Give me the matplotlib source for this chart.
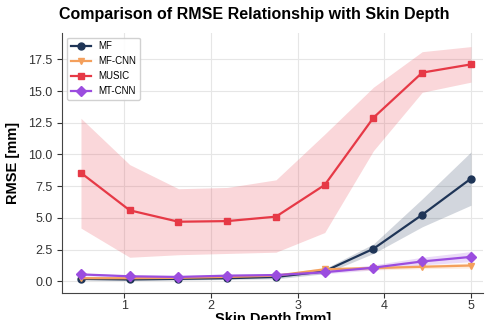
import numpy as np
import matplotlib.pyplot as plt

plt.rcParams['font.family'] = ['Liberation Sans', 'DejaVu Sans']

# =========================
# DATA
# =========================
depth = [0.5, 1.0625, 1.625, 2.1875, 2.75, 3.3125, 3.875, 4.4375, 5.0]

mf = [0.2, 0.15, 0.2, 0.25, 0.35, 0.8, 2.57, 5.25, 8.1]
mf_lo = [0.1, 0.08, 0.1, 0.15, 0.2, 0.6, 2.2, 4.3, 6.0]
mf_hi = [0.3, 0.25, 0.3, 0.35, 0.5, 1.0, 2.95, 6.5, 10.2]

mfcnn = [0.25, 0.25, 0.28, 0.35, 0.45, 0.95, 1.05, 1.15, 1.25]
mfcnn_lo = [0.18, 0.18, 0.2, 0.25, 0.35, 0.8, 0.9, 1.0, 1.05]
mfcnn_hi = [0.32, 0.32, 0.36, 0.45, 0.55, 1.1, 1.2, 1.3, 1.45]

music = [8.55, 5.6, 4.7, 4.75, 5.1, 7.6, 12.9, 16.45, 17.1]
music_lo = [4.2, 1.9, 2.1, 2.2, 2.3, 3.85, 10.3, 14.9, 15.7]
music_hi = [12.85, 9.2, 7.3, 7.4, 8.0, 11.6, 15.3, 18.1, 18.5]

mtcnn = [0.55, 0.4, 0.35, 0.45, 0.5, 0.72, 1.08, 1.57, 1.93]
mtcnn_lo = [0.45, 0.3, 0.25, 0.35, 0.4, 0.6, 0.9, 1.3, 1.55]
mtcnn_hi = [0.65, 0.5, 0.45, 0.55, 0.6, 0.85, 1.3, 1.9, 2.35]

series = [
    ("MF", mf, mf_lo, mf_hi, "#1f3557", "o"),
    ("MF-CNN", mfcnn, mfcnn_lo, mfcnn_hi, "#f4a05c", "v"),
    ("MUSIC", music, music_lo, music_hi, "#e63946", "s"),
    ("MT-CNN", mtcnn, mtcnn_lo, mtcnn_hi, "#9b4ddf", "D"),
]

# =========================
# PLOT
# =========================
fig, ax = plt.subplots(figsize=(4.87, 3.2), dpi=100)

for name, y, lo, hi, c, m in series:
    ax.fill_between(depth, lo, hi, color=c, alpha=0.2, linewidth=0)
    ax.plot(depth, y, color=c, marker=m, markersize=5, linewidth=1.6, label=name)

fig.text(0.522, 0.955, "Comparison of RMSE Relationship with Skin Depth",
         fontsize=11.5, fontweight="bold", ha="center", va="center")
ax.set_xlabel("Skin Depth [mm]", fontsize=10.5, fontweight="bold", labelpad=0)
ax.set_ylabel("RMSE [mm]", fontsize=10.5, fontweight="bold", labelpad=6)
ax.set_xlim(0.285, 5.14)
ax.set_ylim(-0.9, 19.6)
ax.set_yticks([0, 2.5, 5, 7.5, 10, 12.5, 15, 17.5])
ax.set_xticks([1, 2, 3, 4, 5])
ax.tick_params(labelsize=9, colors="#333333")
ax.tick_params(axis="x", pad=2)
ax.grid(True, color="#e6e6e6", linewidth=0.8)
ax.set_axisbelow(True)
ax.spines["top"].set_visible(False)
ax.spines["right"].set_visible(False)
ax.spines["left"].set_color("#444444")
ax.spines["bottom"].set_color("#444444")
ax.legend(loc="upper left", fontsize=7, framealpha=0.9)

fig.subplots_adjust(left=0.128, right=0.992, top=0.898, bottom=0.085)
plt.savefig("out.png")
